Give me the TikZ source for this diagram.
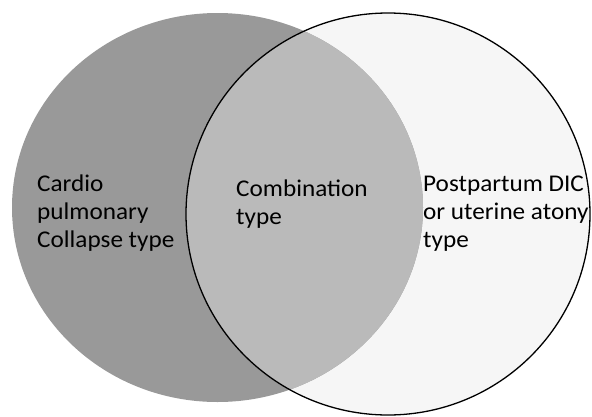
\documentclass[tikz,border=0pt]{standalone}
\usepackage{fontspec}
\setmainfont{Carlito}
\definecolor{leftgray}{gray}{0.60}
\definecolor{midgray}{gray}{0.73}
\definecolor{rightgray}{gray}{0.965}
\tikzset{
  lbl/.style={anchor=base west, inner sep=0pt, align=left, xscale=1.05, font=\fontsize{24}{27.8}\selectfont, text=black},
}
\begin{document}
\begin{tikzpicture}[x=1pt,y=-1pt]
\useasboundingbox (0,0) rectangle (592,416);
\fill[white] (0,0) rectangle (592,416);
% right circle background
\fill[rightgray] (388,214) ellipse [x radius=202pt, y radius=201pt];
% left ellipse
\fill[leftgray] (217.5,207.5) ellipse [x radius=205.5pt, y radius=194.5pt];
% intersection
\begin{scope}
  \clip (388,214) ellipse [x radius=202pt, y radius=201pt];
  \fill[midgray] (217.5,207.5) ellipse [x radius=205.5pt, y radius=194.5pt];
\end{scope}
% right circle border
\draw[black, line width=1.3pt] (388,214) ellipse [x radius=202pt, y radius=201pt];
\node[lbl] (cp) at (37,247) {Cardio\\pulmonary\\Collapse type};
\node[lbl] (cb) at (236,224) {Combination\\type};
\node[lbl] (pp) at (423,247) {Postpartum DIC\\or uterine atony\\type};
\end{tikzpicture}
\end{document}
